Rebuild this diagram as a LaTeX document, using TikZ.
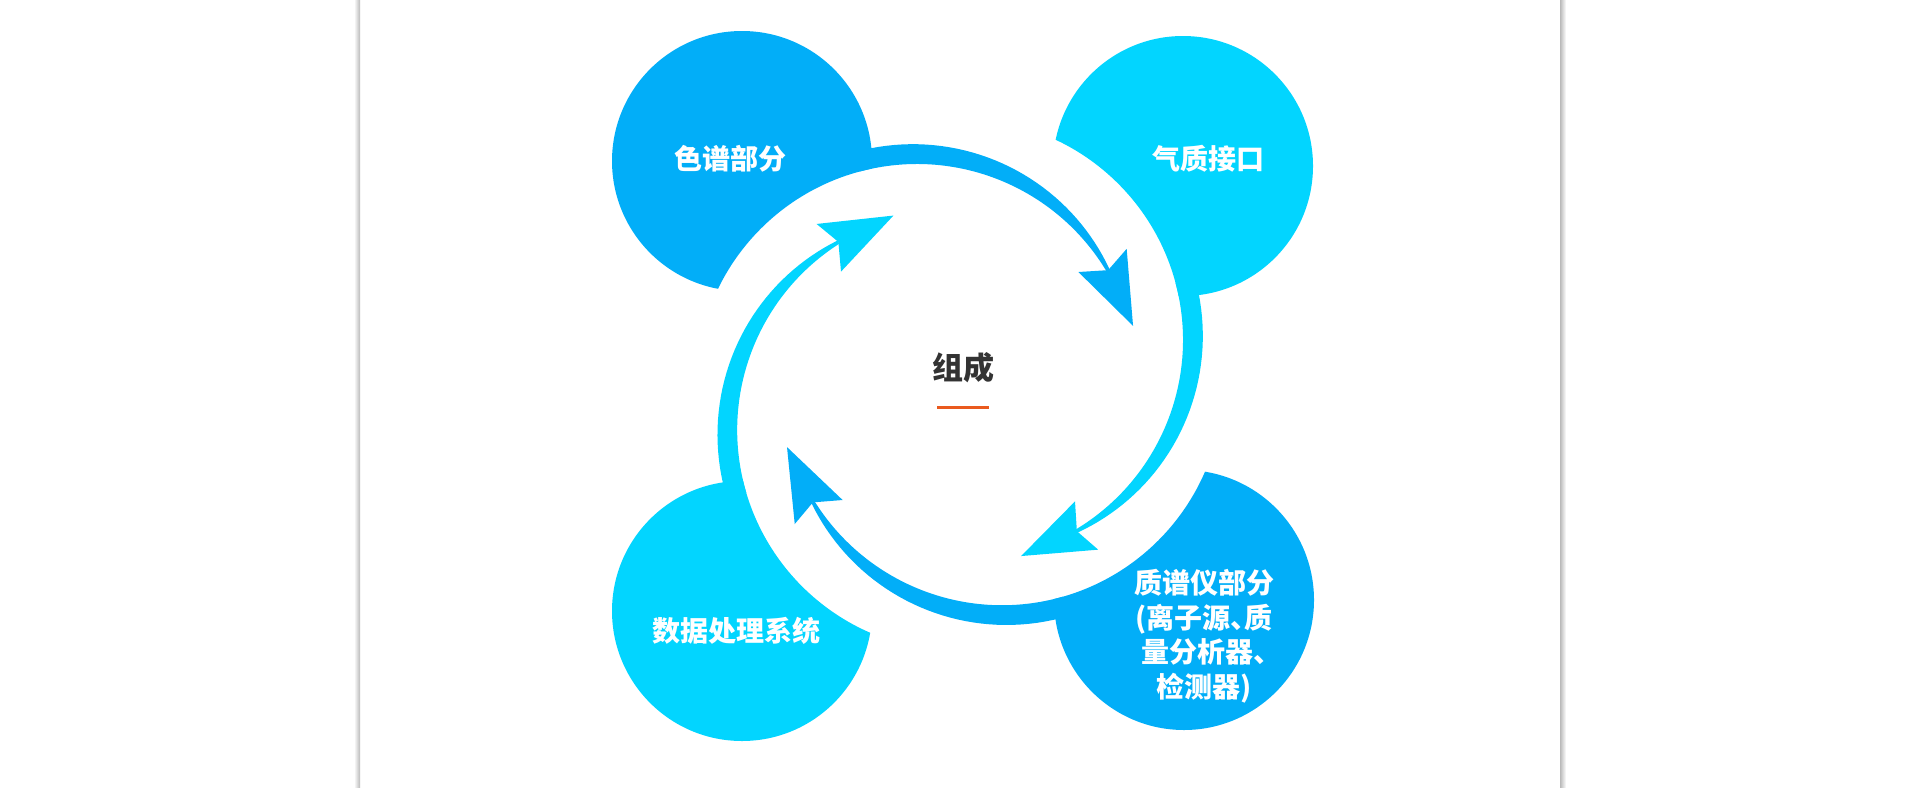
\documentclass[tikz,border=0pt]{standalone}
\usepackage{fontspec}
\setmainfont{Noto Sans CJK SC}
\usepackage{tikz}
\usetikzlibrary{
    shapes, arrows.meta, positioning, calc
}
\definecolor{partBlue}{HTML}{02AEF8}
\definecolor{partCyan}{HTML}{02D5FF}
\definecolor{titleGray}{HTML}{333333}
\definecolor{barOrange}{HTML}{EA5A1E}
\definecolor{edgeGray}{HTML}{B9B9B9}

\begin{document}
\begin{tikzpicture}[x=1pt, y=1pt,
        partText/.style={text=white, font=\fontsize{28}{34.5}\selectfont\bfseries, align=center, inner sep=0pt}]
            \useasboundingbox (0, 0) rectangle (1921, -787);
            \shade[left color=white, right color=edgeGray] (354, 0) rectangle (360, -787);
            \shade[left color=edgeGray, right color=white] (1560, 0) rectangle (1566, -787);

            \coordinate (O) at (962, -385);

            \begin{scope}[even odd rule]
                \clip (0, 0) -- (1921, 0) -- (1921, -787) -- (0, -787) -- cycle
                    (1138, -385) arc[start angle=0, end angle=360, radius=221];
                \fill[partBlue] (742, -161) circle (130);
            \end{scope}
            \begin{scope}[even odd rule]
                \clip (0, 0) -- (1921, 0) -- (1921, -787) -- (0, -787) -- cycle
                    (1183, -340) arc[start angle=0, end angle=360, radius=221];
                \fill[partCyan] (1183, -166) circle (130);
            \end{scope}
            \begin{scope}[even odd rule]
                \clip (0, 0) -- (1921, 0) -- (1921, -787) -- (0, -787) -- cycle
                    (1223, -384.2) arc[start angle=0, end angle=360, radius=221];
                \fill[partBlue] (1184, -600) circle (130);
            \end{scope}
            \begin{scope}[even odd rule]
                \clip (0, 0) -- (1921, 0) -- (1921, -787) -- (0, -787) -- cycle
                    (1179.2, -430) arc[start angle=0, end angle=360, radius=221];
                \fill[partCyan] (742, -611) circle (130);
            \end{scope}

            % arrows round the ring
            \begin{scope}[shift={(O)}, rotate=0, shift={(-45, 0)}]
                \fill[partBlue] plot[domain=105:31, samples=40] (\x:{215.4+25.4*sin(\x)-4.5*cos(\x)})
                    -- (31:221) arc[start angle=31, end angle=105, radius=221] -- cycle;
                \fill[partBlue] (35:197) -- (15.3:224) -- (33:250) -- (31:223) -- cycle;
            \end{scope}
            \begin{scope}[shift={(O)}, rotate=-90, shift={(-45, 0)}]
                \fill[partCyan] plot[domain=105:31, samples=40] (\x:{215.4+25.4*sin(\x)-4.5*cos(\x)})
                    -- (31:221) arc[start angle=31, end angle=105, radius=221] -- cycle;
                \fill[partCyan] (35:197) -- (15.3:224) -- (33:250) -- (31:223) -- cycle;
            \end{scope}
            \begin{scope}[shift={(O)}, shift={(-5, 0)}, rotate=-179, shift={(-45, 0)}]
                \fill[partBlue] plot[domain=105:31, samples=40] (\x:{215.4+25.4*sin(\x)-4.5*cos(\x)})
                    -- (31:221) arc[start angle=31, end angle=105, radius=221] -- cycle;
                \fill[partBlue] (35:197) -- (15.3:224) -- (33:250) -- (31:223) -- cycle;
            \end{scope}
            \begin{scope}[shift={(O)}, shift={(-5, 0)}, rotate=-268.5, shift={(-45, 0)}]
                \fill[partCyan] plot[domain=105:31, samples=40] (\x:{215.4+25.4*sin(\x)-4.5*cos(\x)})
                    -- (31:221) arc[start angle=31, end angle=105, radius=221] -- cycle;
                \fill[partCyan] (35:197) -- (15.3:224) -- (33:250) -- (31:223) -- cycle;
            \end{scope}

            \node[partText] (chroma) at (730, -159) {色谱部分};
            \node[partText] (iface) at (1208, -159) {气质接口};
            \node[partText] (dataSys) at (736, -631) {数据处理系统};
            \node[partText] (massSpec) at (1204, -636) {质谱仪部分\\(离子源\makebox[.5em][l]{、}质\\量分析器\makebox[.5em][l]{、}\\检测器)};

            \node[text=titleGray, font=\fontsize{31}{36}\selectfont\bfseries, inner sep=0pt] (core) at (963, -368) {组成};
            \coordinate (barL) at (937, -407.5);
            \coordinate (barR) at (989, -407.5);
            \draw[barOrange, line width=3pt] (barL) -- (barR);
        \end{tikzpicture}
\end{document}
